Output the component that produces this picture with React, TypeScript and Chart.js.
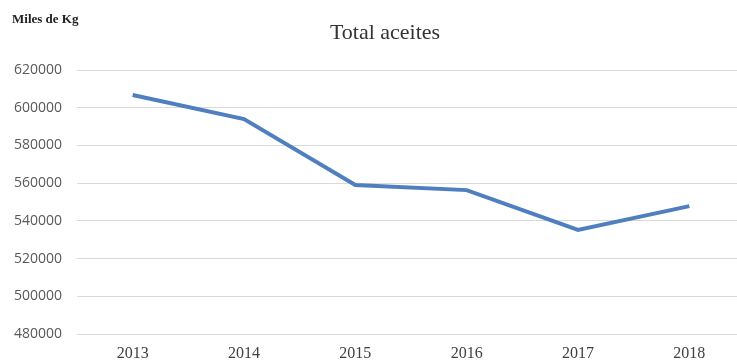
import React, { useEffect, useRef } from "react";
import { Chart, registerables } from "chart.js";

Chart.register(...registerables);

const years = ["2013", "2014", "2015", "2016", "2017", "2018"];
const totalAceites = [606700, 594000, 559000, 556300, 535200, 547800];
const yMin = 480000;
const yMax = 620000;
const yStep = 20000;
const titleText = "Total aceites";
const unitText = "Miles de Kg";

export default function App() {
  const ref = useRef<HTMLCanvasElement | null>(null);
  useEffect(() => {
    if (!ref.current) return;
    const textPlugin = {
      id: "texts",
      afterDraw(chart: any) {
        const ctx = chart.ctx;
        ctx.save();
        ctx.fillStyle = "#222";
        ctx.font = "bold 13px 'Liberation Serif'";
        ctx.textAlign = "left";
        ctx.textBaseline = "middle";
        ctx.fillText(unitText, 12, 20);
        ctx.fillStyle = "#333";
        ctx.font = "22px 'Liberation Serif'";
        ctx.textAlign = "center";
        ctx.fillText(titleText, 385, 33);
        ctx.restore();
      },
    };
    const chart = new Chart(ref.current, {
      type: "line",
      data: {
        labels: years,
        datasets: [
          {
            data: totalAceites,
            borderColor: "#4f7fbf",
            borderWidth: 4,
            pointRadius: 0,
            tension: 0,
            fill: false,
          },
        ],
      },
      options: {
        responsive: false,
        animation: false,
        layout: { padding: { top: 70, left: 0, right: 0, bottom: 0 } },
        plugins: { legend: { display: false }, title: { display: false }, tooltip: { enabled: false } },
        scales: {
          x: {
            offset: true,
            grid: { display: false, drawTicks: false },
            border: { display: false },
            ticks: { color: "#404040", font: { family: "'Liberation Serif'", size: 16 }, padding: 10, maxRotation: 0 },
            afterFit(scale: any) {
              scale.height = 26;
            },
          },
          y: {
            min: yMin,
            max: yMax,
            grid: { color: "#d9d9d9", drawTicks: false, lineWidth: 1 },
            border: { display: false },
            ticks: {
              stepSize: yStep,
              color: "#595959",
              font: { family: "'Open Sans'", size: 14 },
              padding: 15,
              callback: (v: any) => String(v),
            },
            afterFit(scale: any) {
              scale.width = 77;
            },
          },
        },
      },
      plugins: [textPlugin],
    });
    return () => chart.destroy();
  }, []);
  return (
    <div style={{ position: "fixed", left: 0, top: 0, width: 745, height: 360, background: "#fff" }}>
      <canvas ref={ref} width={745} height={360} />
    </div>
  );
}
